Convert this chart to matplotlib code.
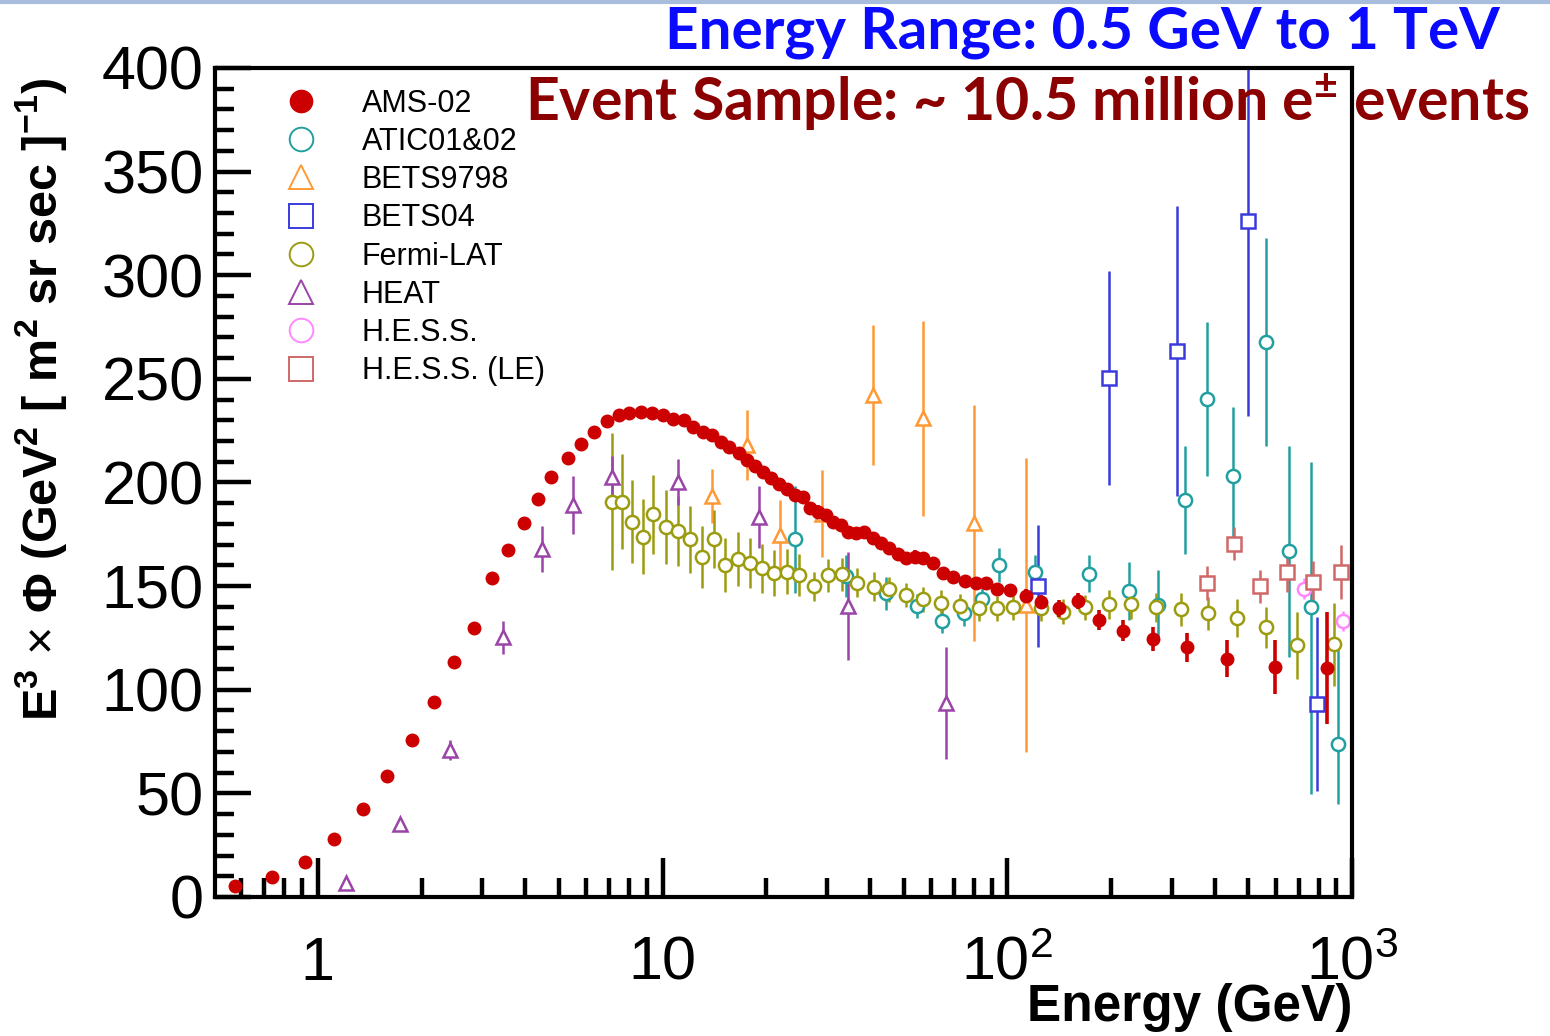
import matplotlib
matplotlib.use('Agg')
import matplotlib.pyplot as plt
from matplotlib.lines import Line2D
from matplotlib.ticker import FixedLocator, FuncFormatter, MultipleLocator, LogLocator, NullFormatter

# e+ + e- flux times E^3 [GeV^2 m^-2 sr^-1 s^-1]
ams_e = [0.575, 0.737, 0.917, 1.115, 1.348, 1.592, 1.877, 2.17, 2.485, 2.838,
         3.2, 3.56, 3.95, 4.35, 4.73, 5.3, 5.78, 6.32, 6.89, 7.45,
         8.01, 8.66, 9.32, 10.0, 10.7, 11.5, 12.25, 13.1, 13.9, 14.8,
         15.6, 16.7, 17.6, 18.5, 19.5, 20.6, 21.8, 22.9, 24.2, 25.5,
         26.8, 28.3, 29.8, 31.3, 32.9, 34.6, 36.4, 38.5, 40.7, 43.0,
         45.5, 48.1, 50.9, 53.8, 56.9, 60.8, 65.0, 69.5, 75.2, 80.9,
         86.8, 93.4, 102, 113, 125, 141, 160, 184, 217, 264,
         331, 433, 596, 847]
ams_v = [5.4, 9.5, 16.7, 27.8, 42.3, 58.4, 75.7, 94.1, 113.4, 129.7,
         154, 167.4, 180.3, 191.8, 202.7, 212, 218.4, 224.5, 229.5, 232.6,
         233.4, 234.2, 233.4, 232.6, 230.6, 230, 226.9, 224.5, 222.9, 219.6,
         217.2, 214.3, 210.8, 208, 205.2, 202, 199.5, 196.7, 193.9, 193.1,
         187.5, 185.9, 184.3, 181, 179.4, 176.2, 175.4, 176.2, 173, 170.6,
         168.2, 165.5, 163.4, 164.2, 163.4, 161, 156.1, 154.2, 152.4, 151.3,
         151.3, 148.4, 148.1, 145.4, 142.3, 139.3, 142.8, 133.6, 128.5, 124.5,
         120.6, 114.9, 111, 110.5]
ams_err = [0.5, 0.5, 0.5, 0.8, 1, 1, 1, 1.5, 1.5, 1.5,
           2, 2, 2, 2, 2, 2, 2, 2, 2, 2,
           2, 2, 2, 2, 2.5, 2.5, 2.5, 2.5, 2.5, 2.5,
           2.5, 2.5, 2.5, 2.5, 2.5, 2.5, 2.5, 2.5, 3, 3,
           3, 3, 3, 3, 3, 3, 3, 3, 3, 3,
           3, 3, 3, 3, 3, 3, 3, 3, 3, 3,
           3, 3, 3, 3, 3.5, 4, 4, 5, 5, 6,
           7, 9, 13, 27]

atic_e = [24.2, 34.1, 44.6, 54.6, 64.7, 75.0, 84.5, 94.4, 120, 172,
          226, 274, 327, 379, 452, 561, 655, 762, 910]
atic_v = [172.5, 154.9, 146.5, 140.4, 133.3, 136.8, 144, 160.2, 157, 156,
          147.4, 140.7, 191.6, 240.3, 203.2, 267.8, 166.7, 139.9, 73.9]
atic_lo = [26, 10, 8, 6, 6, 6, 6, 8, 8, 9, 14, 17, 26, 37, 33, 50, 51, 90, 29]
atic_hi = [26, 10, 8, 6, 6, 6, 6, 8, 8, 9, 14, 17, 26, 37, 33, 50, 51, 70, 50]

bets97_e = [13.9, 17.6, 21.9, 29.0, 40.7, 57.1, 80.2, 113]
bets97_v = [193.5, 218, 174.7, 185, 242.2, 230.9, 180.3, 141]
bets97_err = [13, 17, 17, 21, 34, 47, 57, 71]

bets04_e = [123, 197, 311, 500, 789]
bets04_v = [149.9, 250.4, 263.5, 326.2, 93]
bets04_err = [29.5, 51.5, 70, 94, 42]

fermi_e = [7.11, 7.63, 8.16, 8.77, 9.41, 10.2, 11.1, 12.0, 13.0, 14.1,
           15.2, 16.5, 17.9, 19.4, 21.1, 22.9, 24.8, 27.4, 30.1, 33.1,
           36.6, 41.0, 45.5, 50.9, 57.1, 64.0, 72.8, 82.6, 93.5, 104,
           125, 145, 168, 197, 228, 270, 320, 381, 464, 562,
           694, 887]
fermi_v = [190.7, 190.7, 181, 173.8, 184.6, 178.6, 176.7, 172.5, 164.2, 172.5,
           160.2, 162.9, 161, 158.5, 156.4, 157, 155.3, 150, 155.3, 155.7,
           151.7, 149.7, 148.4, 145.7, 143.6, 142, 140.4, 139.2, 139.2, 139.7,
           139.3, 137.7, 139.7, 141.3, 141.3, 139.9, 138.9, 136.8, 134.6, 130.1,
           121.4, 122]
fermi_err = [33, 23, 20, 18, 19, 18, 17, 16, 15, 14,
             13, 13, 12, 12, 11, 11, 10, 7, 8, 8,
             7, 7, 6, 6, 6, 6, 6, 6, 6, 6,
             6, 6, 6, 7, 7, 7, 8, 8, 9, 10,
             16, 20]

heat_e = [1.21, 1.73, 2.42, 3.45, 4.46, 5.49, 7.11, 11.1, 19.1, 34.6, 66.3]
heat_v = [6.6, 35.2, 70.9, 125.3, 167.9, 189.1, 202.7, 200.3, 183.4, 140.4, 93.4]
heat_err = [0, 0, 5, 8, 11, 14, 10, 11, 15, 26, 27]

hess_e = [727, 940]
hess_v = [148.8, 133.2]
hess_err = [5, 5]

hessle_e = [379, 455, 540, 647, 769, 931]
hessle_v = [151.5, 170.4, 149.9, 157, 151.9, 157]
hessle_err = [8, 8, 8, 10, 10, 13]

plt.rcParams['font.family'] = ['Liberation Sans', 'DejaVu Sans']
plt.rcParams['mathtext.fontset'] = 'custom'
plt.rcParams['mathtext.rm'] = 'Liberation Sans'
plt.rcParams['mathtext.it'] = 'Liberation Sans:italic'
plt.rcParams['mathtext.bf'] = 'Liberation Sans:bold'

fig = plt.figure(figsize=(15.5, 10.36), dpi=100)
ax = fig.add_axes([0.1387, 0.1342, 0.7336, 0.8002])

c_ams = '#cc0000'
c_atic = '#22a0a0'
c_bets97 = '#ff9933'
c_bets04 = '#3b3bdd'
c_fermi = '#9c9c10'
c_heat = '#9a44a8'
c_hess = '#ff88ff'
c_hessle = '#d06868'

ms = 9.5
mew = 1.8
elw = 1.8

def open_series(e, v, err, color, marker, label):
    ax.errorbar(e, v, yerr=err, fmt=marker, ms=ms, mfc='white', mec=color, mew=mew,
                ecolor=color, elinewidth=elw, capsize=0, zorder=2)
    return Line2D([], [], ls='none', marker=marker, ms=17, mfc='none', mec=color, mew=1.4, label=label)

h_atic = open_series(atic_e, atic_v, [atic_lo, atic_hi], c_atic, 'o', 'ATIC01&02')
h_bets97 = open_series(bets97_e, bets97_v, bets97_err, c_bets97, '^', 'BETS9798')
h_bets04 = open_series(bets04_e, bets04_v, bets04_err, c_bets04, 's', 'BETS04')
h_fermi = open_series(fermi_e, fermi_v, fermi_err, c_fermi, 'o', 'Fermi-LAT')
h_heat = open_series(heat_e, heat_v, heat_err, c_heat, '^', 'HEAT')
h_hess = open_series(hess_e, hess_v, hess_err, c_hess, 'o', 'H.E.S.S.')
h_hessle = open_series(hessle_e, hessle_v, hessle_err, c_hessle, 's', 'H.E.S.S. (LE)')

ax.errorbar(ams_e, ams_v, yerr=ams_err, fmt='o', ms=9, color=c_ams, mec=c_ams,
            ecolor=c_ams, elinewidth=2.6, capsize=0, zorder=3)
h_ams = Line2D([], [], ls='none', marker='o', ms=16, color=c_ams, label='AMS-02')

handles = [h_ams, h_atic, h_bets97, h_bets04, h_fermi, h_heat, h_hess, h_hessle]
ax.legend(handles=handles, loc='upper left', bbox_to_anchor=(0.062, 0.975), frameon=False,
          fontsize=22, handlelength=1.0, handletextpad=1.5, labelspacing=0.27, borderpad=0,
          borderaxespad=0)

ax.set_xscale('log')
ax.set_xlim(0.503, 1000)
ax.set_ylim(0, 400)

for s in ax.spines.values():
    s.set_linewidth(3)

ax.yaxis.set_major_locator(MultipleLocator(50))
ax.yaxis.set_minor_locator(MultipleLocator(10))
ax.xaxis.set_major_locator(FixedLocator([1, 10, 100, 1000]))
ax.xaxis.set_minor_locator(LogLocator(base=10, subs=[2, 3, 4, 5, 6, 7, 8, 9], numticks=20))
ax.xaxis.set_minor_formatter(NullFormatter())

def xfmt(v, pos):
    labels = {1: '1', 10: '10', 100: r'$\mathregular{10^2}$', 1000: r'$\mathregular{10^3}$'}
    return labels.get(int(round(v)), '')

ax.xaxis.set_major_formatter(FuncFormatter(xfmt))

ax.tick_params(axis='both', which='both', direction='in', top=False, right=False, width=3.2)
ax.tick_params(axis='y', which='major', length=26, pad=8, labelsize=44)
ax.tick_params(axis='y', which='minor', length=14)
ax.tick_params(axis='x', which='major', length=28, pad=28, labelsize=44)
ax.tick_params(axis='x', which='minor', length=14)

ax.set_ylabel(r'E$^{\mathbf{3}}$ $\times$ $\mathbf{\Phi}$ (GeV$^{\mathbf{2}}$ [ m$^{\mathbf{2}}$ sr sec ]$^{\mathbf{-1}}$)',
              fontsize=35, fontweight='bold')
ax.yaxis.set_label_coords(-0.128, 0.6)
ax.set_xlabel('Energy (GeV)', fontsize=37, fontweight='bold')
ax.xaxis.set_label_coords(1.0, -0.104)
ax.xaxis.label.set_horizontalalignment('right')

fig.text(0.6985, 0.969, 'Energy Range: 0.5 GeV to 1 TeV', color='#0a0aff', fontsize=42,
         fontweight='bold', family=['Lato', 'DejaVu Sans'], ha='center', va='center')
fig.text(0.6626, 0.9006, r'Event Sample: ~ 10.5 million e$^{\mathregular{\pm}}$ events', color='#8b0000',
         fontsize=42.5, fontweight='bold', family=['Lato', 'DejaVu Sans'], ha='center', va='center')

fig.add_artist(Line2D([0, 1], [0.998, 0.998], transform=fig.transFigure, color='#a8bcdc', lw=3))

fig.savefig('out.png', dpi=100)
